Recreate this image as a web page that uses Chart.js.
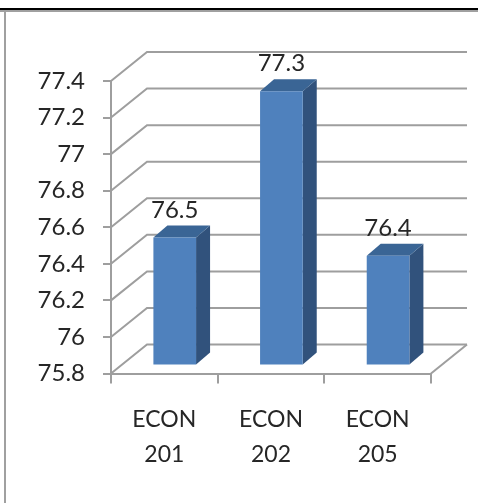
<!DOCTYPE html>
<html>
<head>
<meta charset="utf-8">
<title>ECON chart</title>
<script src="https://cdn.jsdelivr.net/npm/chart.js@4/dist/chart.umd.min.js"></script>
<style>
  html, body { margin: 0; padding: 0; background: #fff; overflow: hidden; }
  #wrap { position: relative; width: 478px; height: 503px; }
  #topLine { position: absolute; left: 0; top: 8px; width: 478px; height: 2px; background: #000; border-bottom: 2px solid #a0a0a0; }
  #leftLine { position: absolute; left: 4px; top: 10px; width: 2px; height: 493px; background: #a0a0a0; }
  canvas { position: absolute; left: 0; top: 0; }
</style>
</head>
<body>
<div id="wrap">
  <canvas id="econChart" width="478" height="503"></canvas>
  <div id="topLine"></div>
  <div id="leftLine"></div>
</div>
<script>
// Chart data
const categories = [["ECON", "201"], ["ECON", "202"], ["ECON", "205"]];
const seriesValues = [76.5, 77.3, 76.4];
const valueLabels = ["76.5", "77.3", "76.4"];
const yTickValues = [75.8, 76, 76.2, 76.4, 76.6, 76.8, 77, 77.2, 77.4];
const yTickLabels = ["75.8", "76", "76.2", "76.4", "76.6", "76.8", "77", "77.2", "77.4"];

const FONT = "Lato";
const LINE = "#9e9e9e";
const TEXT = "#262626";

// Fake 3D: wall depth, bar position inside the floor, bar depth
const wall = { dx: 36, dy: -29 };
const barShift = { dx: 10.4, dy: -8 };
const barDepth = { dx: 14, dy: -12 };

function poly(ctx, pts, fill) {
  ctx.fillStyle = fill;
  ctx.beginPath();
  pts.forEach((p, i) => (i ? ctx.lineTo(p[0], p[1]) : ctx.moveTo(p[0], p[1])));
  ctx.closePath();
  ctx.fill();
}

const walls3d = {
  id: "walls3d",
  beforeDatasetsDraw(chart) {
    const { ctx, chartArea, scales } = chart;
    ctx.save();
    ctx.strokeStyle = LINE;
    ctx.lineWidth = 2;
    yTickValues.forEach(v => {
      const y = scales.y.getPixelForValue(v);
      ctx.beginPath();
      ctx.moveTo(chartArea.left, y);
      ctx.lineTo(chartArea.left + wall.dx, y + wall.dy);
      ctx.lineTo(chartArea.right + wall.dx, y + wall.dy);
      ctx.stroke();
    });
    // right edge of the floor
    ctx.beginPath();
    ctx.moveTo(chartArea.right, chartArea.bottom);
    ctx.lineTo(chartArea.right + wall.dx, chartArea.bottom + wall.dy);
    ctx.stroke();
    ctx.restore();

    // bars are shifted back onto the floor
    ctx.save();
    ctx.translate(barShift.dx, barShift.dy);
    chart.getDatasetMeta(0).data.forEach(bar => {
      const l = bar.x - bar.width / 2, r = bar.x + bar.width / 2;
      const d = barDepth;
      poly(ctx, [[r, bar.y], [r + d.dx, bar.y + d.dy], [r + d.dx, bar.base + d.dy], [r, bar.base]], "#31527c");
      poly(ctx, [[l, bar.y], [l + d.dx, bar.y + d.dy], [r + d.dx, bar.y + d.dy], [r, bar.y]], "#3a6595");
    });
  },
  afterDatasetsDraw(chart) {
    const { ctx } = chart;
    ctx.restore();
    // value labels
    ctx.save();
    ctx.font = "24px " + FONT;
    ctx.fillStyle = TEXT;
    ctx.textAlign = "center";
    ctx.textBaseline = "alphabetic";
    chart.getDatasetMeta(0).data.forEach((bar, i) => {
      ctx.fillText(valueLabels[i], bar.x + barShift.dx, bar.y + barShift.dy - 20);
    });
    ctx.restore();
  }
};

new Chart(document.getElementById("econChart").getContext("2d"), {
  type: "bar",
  data: {
    labels: categories,
    datasets: [{
      data: seriesValues,
      base: yTickValues[0],
      backgroundColor: "#4f81bd",
      borderWidth: 0,
      barPercentage: 0.4,
      categoryPercentage: 1,
      clip: false
    }]
  },
  plugins: [walls3d],
  options: {
    responsive: false,
    animation: false,
    layout: { padding: { top: 81, right: 47, left: 0, bottom: 0 } },
    plugins: { legend: { display: false }, title: { display: false }, tooltip: { enabled: false } },
    scales: {
      x: {
        afterFit(scale) { scale.height = 129.5; },
        border: { color: LINE, width: 2 },
        grid: { drawOnChartArea: false, color: LINE, lineWidth: 2, tickLength: 10 },
        ticks: {
          color: TEXT,
          padding: 19,
          maxRotation: 0,
          font: { family: FONT, size: 23, lineHeight: 1.5 }
        }
      },
      y: {
        min: 75.8,
        max: 77.4,
        afterFit(scale) { scale.width = 111; },
        afterBuildTicks(scale) { scale.ticks = yTickValues.map(value => ({ value })); },
        border: { color: LINE, width: 2 },
        grid: { drawOnChartArea: false, color: LINE, lineWidth: 2, tickLength: 8 },
        ticks: {
          color: TEXT,
          padding: 18,
          callback: (value, i) => yTickLabels[i],
          font: { family: FONT, size: 24 }
        }
      }
    }
  }
});
</script>
</body>
</html>
